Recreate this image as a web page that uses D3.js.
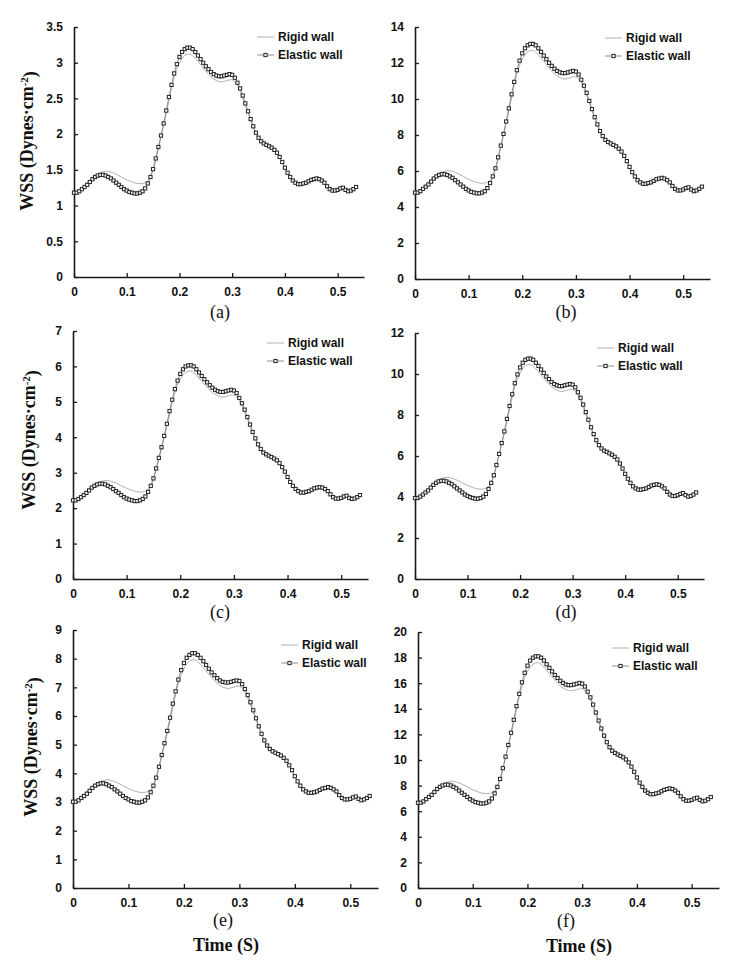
<!DOCTYPE html>
<html>
<head>
<meta charset="utf-8">
<script src="https://cdn.jsdelivr.net/npm/d3@7"></script>
<style>
  body { margin: 0; background: #fff; }
  svg { display: block; }
</style>
</head>
<body>
<svg id="chart" width="729" height="969"></svg>
<script>
// ---------------- DATA ----------------
const elasticStep = 0.005;   // s between elastic-wall samples
const rigidStep = 0.01;      // s between rigid-wall samples
const xTicks = [0, 0.1, 0.2, 0.3, 0.4, 0.5];
const seriesNames = ["Rigid wall", "Elastic wall"];
const panelLabels = ["(a)", "(b)", "(c)", "(d)", "(e)", "(f)"];
const xTitle = "Time (S)";

const yTicksA = [0, 0.5, 1, 1.5, 2, 2.5, 3, 3.5];
const yTicksB = [0, 2, 4, 6, 8, 10, 12, 14];
const yTicksC = [0, 1, 2, 3, 4, 5, 6, 7];
const yTicksD = [0, 2, 4, 6, 8, 10, 12];
const yTicksE = [0, 1, 2, 3, 4, 5, 6, 7, 8, 9];
const yTicksF = [0, 2, 4, 6, 8, 10, 12, 14, 16, 18, 20];

const elasticA = [1.18,1.18,1.20,1.23,1.26,1.29,1.33,1.37,1.40,1.42,
1.43,1.43,1.42,1.40,1.38,1.35,1.32,1.29,1.26,1.23,
1.21,1.19,1.18,1.17,1.17,1.18,1.20,1.24,1.31,1.40,
1.51,1.66,1.82,1.98,2.15,2.33,2.52,2.69,2.85,2.98,
3.08,3.15,3.19,3.21,3.21,3.19,3.15,3.10,3.05,3.00,
2.95,2.91,2.87,2.84,2.82,2.81,2.81,2.82,2.83,2.84,
2.83,2.79,2.72,2.64,2.54,2.43,2.32,2.21,2.11,2.02,
1.95,1.90,1.87,1.85,1.83,1.81,1.78,1.74,1.68,1.61,
1.53,1.46,1.40,1.35,1.32,1.30,1.30,1.31,1.32,1.34,
1.36,1.37,1.38,1.37,1.35,1.32,1.27,1.23,1.21,1.21,
1.22,1.24,1.25,1.22,1.20,1.21,1.23,1.26];
const rigidA = [1.18,1.21,1.28,1.36,1.42,1.46,1.48,1.47,1.44,1.40,
1.36,1.33,1.31,1.31,1.34,1.50,1.80,2.12,2.47,2.80,
3.00,3.10,3.12,3.06,2.97,2.88,2.80,2.75,2.73,2.75,
2.76,2.68,2.50,2.30,2.09,1.93,1.85,1.81,1.77,1.67,
1.52,1.39,1.31,1.28,1.30,1.34,1.36,1.34,1.26,1.20,
1.21,1.24,1.19,1.22];

const elasticB = [4.80,4.80,4.88,5.01,5.13,5.25,5.41,5.58,5.70,5.78,
5.82,5.82,5.78,5.70,5.62,5.49,5.37,5.25,5.13,5.01,
4.92,4.84,4.80,4.76,4.76,4.80,4.88,5.05,5.33,5.70,
6.15,6.76,7.41,8.06,8.75,9.48,10.26,10.95,11.60,12.13,
12.54,12.82,12.98,13.06,13.06,12.98,12.82,12.62,12.41,12.21,
12.01,11.84,11.68,11.56,11.48,11.44,11.44,11.48,11.52,11.56,
11.52,11.36,11.07,10.74,10.34,9.89,9.44,8.99,8.59,8.22,
7.94,7.73,7.61,7.53,7.45,7.37,7.24,7.08,6.84,6.55,
6.23,5.94,5.70,5.49,5.37,5.29,5.29,5.33,5.37,5.45,
5.54,5.58,5.62,5.58,5.49,5.37,5.17,5.01,4.92,4.92,
4.97,5.05,5.09,4.97,4.88,4.92,5.01,5.13];
const rigidB = [4.80,4.92,5.21,5.54,5.78,5.94,6.02,5.98,5.86,5.70,
5.54,5.41,5.33,5.33,5.45,6.11,7.33,8.63,10.05,11.40,
12.21,12.62,12.70,12.45,12.09,11.72,11.40,11.19,11.11,11.19,
11.23,10.91,10.18,9.36,8.51,7.86,7.53,7.37,7.20,6.80,
6.19,5.66,5.33,5.21,5.29,5.45,5.54,5.45,5.13,4.88,
4.92,5.05,4.84,4.97];

const elasticC = [2.22,2.22,2.26,2.31,2.37,2.43,2.50,2.58,2.63,2.67,
2.69,2.69,2.67,2.63,2.59,2.54,2.48,2.43,2.37,2.31,
2.27,2.24,2.22,2.20,2.20,2.22,2.26,2.33,2.46,2.63,
2.84,3.12,3.42,3.72,4.04,4.38,4.74,5.06,5.36,5.60,
5.79,5.92,6.00,6.03,6.03,6.00,5.92,5.83,5.73,5.64,
5.55,5.47,5.40,5.34,5.30,5.28,5.28,5.30,5.32,5.34,
5.32,5.25,5.11,4.96,4.78,4.57,4.36,4.15,3.97,3.80,
3.67,3.57,3.52,3.48,3.44,3.40,3.35,3.27,3.16,3.03,
2.88,2.74,2.63,2.54,2.48,2.44,2.44,2.46,2.48,2.52,
2.56,2.58,2.59,2.58,2.54,2.48,2.39,2.31,2.27,2.27,
2.29,2.33,2.35,2.29,2.26,2.27,2.31,2.37];
const rigidC = [2.22,2.27,2.41,2.56,2.67,2.74,2.78,2.76,2.71,2.63,
2.56,2.50,2.46,2.46,2.52,2.82,3.38,3.99,4.64,5.26,
5.64,5.83,5.87,5.75,5.58,5.41,5.26,5.17,5.13,5.17,
5.19,5.04,4.70,4.32,3.93,3.63,3.48,3.40,3.33,3.14,
2.86,2.61,2.46,2.41,2.44,2.52,2.56,2.52,2.37,2.26,
2.27,2.33,2.24,2.29];

const elasticD = [3.95,3.95,4.02,4.12,4.22,4.32,4.46,4.59,4.69,4.76,
4.79,4.79,4.76,4.69,4.62,4.52,4.42,4.32,4.22,4.12,
4.05,3.99,3.95,3.92,3.92,3.95,4.02,4.15,4.39,4.69,
5.06,5.56,6.10,6.63,7.20,7.81,8.44,9.01,9.55,9.98,
10.32,10.55,10.69,10.75,10.75,10.69,10.55,10.39,10.22,10.05,
9.88,9.75,9.61,9.51,9.45,9.41,9.41,9.45,9.48,9.51,
9.48,9.35,9.11,8.84,8.51,8.14,7.77,7.40,7.07,6.77,
6.53,6.37,6.26,6.20,6.13,6.06,5.96,5.83,5.63,5.39,
5.13,4.89,4.69,4.52,4.42,4.36,4.36,4.39,4.42,4.49,
4.56,4.59,4.62,4.59,4.52,4.42,4.25,4.12,4.05,4.05,
4.09,4.15,4.19,4.09,4.02,4.05,4.12,4.22];
const rigidD = [3.95,4.05,4.29,4.56,4.76,4.89,4.96,4.92,4.82,4.69,
4.56,4.46,4.39,4.39,4.49,5.03,6.03,7.10,8.27,9.38,
10.05,10.39,10.45,10.25,9.95,9.65,9.38,9.21,9.15,9.21,
9.25,8.98,8.38,7.71,7.00,6.47,6.20,6.06,5.93,5.59,
5.09,4.66,4.39,4.29,4.36,4.49,4.56,4.49,4.22,4.02,
4.05,4.15,3.99,4.09];

const elasticE = [3.01,3.01,3.06,3.14,3.21,3.29,3.39,3.49,3.57,3.62,
3.65,3.65,3.62,3.57,3.52,3.44,3.37,3.29,3.21,3.14,
3.09,3.03,3.01,2.98,2.98,3.01,3.06,3.16,3.34,3.57,
3.85,4.23,4.64,5.05,5.48,5.94,6.43,6.86,7.27,7.60,
7.85,8.03,8.13,8.19,8.19,8.13,8.03,7.91,7.78,7.65,
7.52,7.42,7.32,7.24,7.19,7.17,7.17,7.19,7.22,7.24,
7.22,7.11,6.94,6.73,6.48,6.20,5.92,5.64,5.38,5.15,
4.97,4.85,4.77,4.72,4.67,4.62,4.54,4.44,4.28,4.11,
3.90,3.72,3.57,3.44,3.37,3.32,3.32,3.34,3.37,3.42,
3.47,3.49,3.52,3.49,3.44,3.37,3.24,3.14,3.09,3.09,
3.11,3.16,3.19,3.11,3.06,3.09,3.14,3.21];
const rigidE = [3.01,3.09,3.26,3.47,3.62,3.72,3.77,3.75,3.67,3.57,
3.47,3.39,3.34,3.34,3.42,3.83,4.59,5.41,6.30,7.14,
7.65,7.91,7.96,7.80,7.57,7.34,7.14,7.01,6.96,7.01,
7.04,6.83,6.38,5.87,5.33,4.92,4.72,4.62,4.51,4.26,
3.88,3.54,3.34,3.26,3.32,3.42,3.47,3.42,3.21,3.06,
3.09,3.16,3.03,3.11];

const elasticF = [6.66,6.66,6.77,6.94,7.11,7.28,7.50,7.73,7.90,8.01,
8.07,8.07,8.01,7.90,7.78,7.61,7.44,7.28,7.11,6.94,
6.82,6.71,6.66,6.60,6.60,6.66,6.77,6.99,7.39,7.90,
8.52,9.36,10.26,11.17,12.13,13.14,14.21,15.17,16.07,16.81,
17.37,17.77,17.99,18.10,18.10,17.99,17.77,17.48,17.20,16.92,
16.64,16.41,16.19,16.02,15.90,15.85,15.85,15.90,15.96,16.02,
15.96,15.74,15.34,14.89,14.33,13.71,13.08,12.46,11.90,11.39,
11.00,10.72,10.55,10.43,10.32,10.21,10.04,9.81,9.48,9.08,
8.63,8.23,7.90,7.61,7.44,7.33,7.33,7.39,7.44,7.56,
7.67,7.73,7.78,7.73,7.61,7.44,7.16,6.94,6.82,6.82,
6.88,6.99,7.05,6.88,6.77,6.82,6.94,7.11];
const rigidF = [6.66,6.82,7.22,7.67,8.01,8.23,8.35,8.29,8.12,7.90,
7.67,7.50,7.39,7.39,7.56,8.46,10.15,11.96,13.93,15.79,
16.92,17.48,17.60,17.26,16.75,16.24,15.79,15.51,15.40,15.51,
15.57,15.12,14.10,12.97,11.79,10.89,10.43,10.21,9.98,9.42,
8.57,7.84,7.39,7.22,7.33,7.56,7.67,7.56,7.11,6.77,
6.82,6.99,6.71,6.88];

// ---------------- LAYOUT (pixels) ----------------
const frames = [
  { x0: 74,  x1: 364, y0: 277, y1: 27,  legX: 278, legY: 37,  labX: 220, labY: 318 },
  { x0: 415, x1: 710, y0: 279, y1: 27,  legX: 626, legY: 38,  labX: 566, labY: 318 },
  { x0: 73,  x1: 368, y0: 579, y1: 331, legX: 288, legY: 343, labX: 220, labY: 618 },
  { x0: 415, x1: 704, y0: 579, y1: 333, legX: 618, legY: 348, labX: 566, labY: 618 },
  { x0: 73,  x1: 378, y0: 888, y1: 630, legX: 302, legY: 645, labX: 223, labY: 926 },
  { x0: 418, x1: 719, y0: 888, y1: 632, legX: 633, legY: 648, labX: 566, labY: 927 }
];
const yTitlePos = [ {x: 33, y: 141}, {x: 35, y: 440}, {x: 36.5, y: 747} ];
const xTitlePos = [ {x: 226, y: 951}, {x: 579, y: 952} ];

const panels = [
  { yMax: 3.5, yTicks: yTicksA, elastic: elasticA, rigid: rigidA },
  { yMax: 14,  yTicks: yTicksB, elastic: elasticB, rigid: rigidB },
  { yMax: 7,   yTicks: yTicksC, elastic: elasticC, rigid: rigidC },
  { yMax: 12,  yTicks: yTicksD, elastic: elasticD, rigid: rigidD },
  { yMax: 9,   yTicks: yTicksE, elastic: elasticE, rigid: rigidE },
  { yMax: 20,  yTicks: yTicksF, elastic: elasticF, rigid: rigidF }
];

// ---------------- STYLE ----------------
const axisColor = "#1a1a1a";
const rigidColor = "#b0b0b0";
const elasticLineColor = "#8c8c8c";
const markerStroke = "#222";
const markerSize = 3.2;
const sansFont = "'Liberation Sans', Arial, sans-serif";
const serifFont = "'Liberation Serif', 'Times New Roman', serif";

const svg = d3.select("#chart");
svg.append("rect").attr("width", 729).attr("height", 969).attr("fill", "#fff");

const fmt = d => (Math.round(d * 100) / 100).toString();

panels.forEach((p, i) => {
  const f = frames[i];
  const g = svg.append("g");
  const x = d3.scaleLinear().domain([0, 0.55]).range([f.x0, f.x1]);
  const y = d3.scaleLinear().domain([0, p.yMax]).range([f.y0, f.y1]);

  // axes
  const xAxis = g.append("g")
    .attr("transform", `translate(0,${f.y0})`)
    .call(d3.axisBottom(x).tickValues(xTicks).tickFormat(fmt)
      .tickSizeInner(-4).tickSizeOuter(0).tickPadding(10));
  const yAxis = g.append("g")
    .attr("transform", `translate(${f.x0},0)`)
    .call(d3.axisLeft(y).tickValues(p.yTicks).tickFormat(fmt)
      .tickSizeInner(-4).tickSizeOuter(0).tickPadding(11));
  [xAxis, yAxis].forEach(a => {
    a.select(".domain").attr("stroke", axisColor).attr("stroke-width", 1.6);
    a.selectAll(".tick line").attr("stroke", axisColor).attr("stroke-width", 1.3);
    a.selectAll(".tick text")
      .attr("fill", "#111")
      .style("font-family", sansFont)
      .style("font-weight", "bold")
      .style("font-size", "12px");
  });

  // rigid wall line
  const rigidLine = d3.line()
    .x((d, k) => x(k * rigidStep))
    .y(d => y(d))
    .curve(d3.curveCatmullRom.alpha(0.5));
  g.append("path")
    .datum(p.rigid)
    .attr("d", rigidLine)
    .attr("fill", "none")
    .attr("stroke", rigidColor)
    .attr("stroke-width", 1);

  // elastic wall line + markers
  const elasticLine = d3.line()
    .x((d, k) => x(k * elasticStep))
    .y(d => y(d));
  g.append("path")
    .datum(p.elastic)
    .attr("d", elasticLine)
    .attr("fill", "none")
    .attr("stroke", elasticLineColor)
    .attr("stroke-width", 1);
  g.append("g").selectAll("rect")
    .data(p.elastic)
    .join("rect")
    .attr("x", (d, k) => x(k * elasticStep) - markerSize / 2)
    .attr("y", d => y(d) - markerSize / 2)
    .attr("width", markerSize)
    .attr("height", markerSize)
    .attr("fill", "#fff")
    .attr("stroke", markerStroke)
    .attr("stroke-width", 1);

  // legend
  const lg = g.append("g");
  lg.append("line")
    .attr("x1", f.legX - 21).attr("x2", f.legX - 4)
    .attr("y1", f.legY).attr("y2", f.legY)
    .attr("stroke", rigidColor).attr("stroke-width", 1);
  lg.append("line")
    .attr("x1", f.legX - 21).attr("x2", f.legX - 4)
    .attr("y1", f.legY + 18).attr("y2", f.legY + 18)
    .attr("stroke", elasticLineColor).attr("stroke-width", 1);
  lg.append("rect")
    .attr("x", f.legX - 12.5 - markerSize / 2).attr("y", f.legY + 18 - markerSize / 2)
    .attr("width", markerSize).attr("height", markerSize)
    .attr("fill", "#fff").attr("stroke", markerStroke).attr("stroke-width", 1);
  seriesNames.forEach((name, k) => {
    lg.append("text")
      .attr("x", f.legX)
      .attr("y", f.legY + k * 18)
      .attr("dy", "0.35em")
      .attr("fill", "#111")
      .style("font-family", sansFont)
      .style("font-weight", "bold")
      .style("font-size", "12px")
      .text(name);
  });

  // panel label
  g.append("text")
    .attr("x", f.labX).attr("y", f.labY)
    .attr("text-anchor", "middle")
    .attr("fill", "#111")
    .style("font-family", serifFont)
    .style("font-size", "18px")
    .text(panelLabels[i]);
});

// y-axis titles (left column)
yTitlePos.forEach(pos => {
  const t = svg.append("text")
    .attr("transform", `translate(${pos.x},${pos.y}) rotate(-90)`)
    .attr("text-anchor", "middle")
    .attr("fill", "#111")
    .style("font-family", serifFont)
    .style("font-weight", "bold")
    .style("font-size", "18px");
  t.append("tspan").text("WSS (Dynes·cm");
  t.append("tspan").attr("dy", "-0.45em").style("font-size", "11px").text("-2");
  t.append("tspan").attr("dy", "0.45em").text(")");
});

// x-axis titles (bottom row)
xTitlePos.forEach(pos => {
  svg.append("text")
    .attr("x", pos.x).attr("y", pos.y)
    .attr("text-anchor", "middle")
    .attr("fill", "#111")
    .style("font-family", serifFont)
    .style("font-weight", "bold")
    .style("font-size", "18px")
    .text(xTitle);
});
</script>
</body>
</html>
